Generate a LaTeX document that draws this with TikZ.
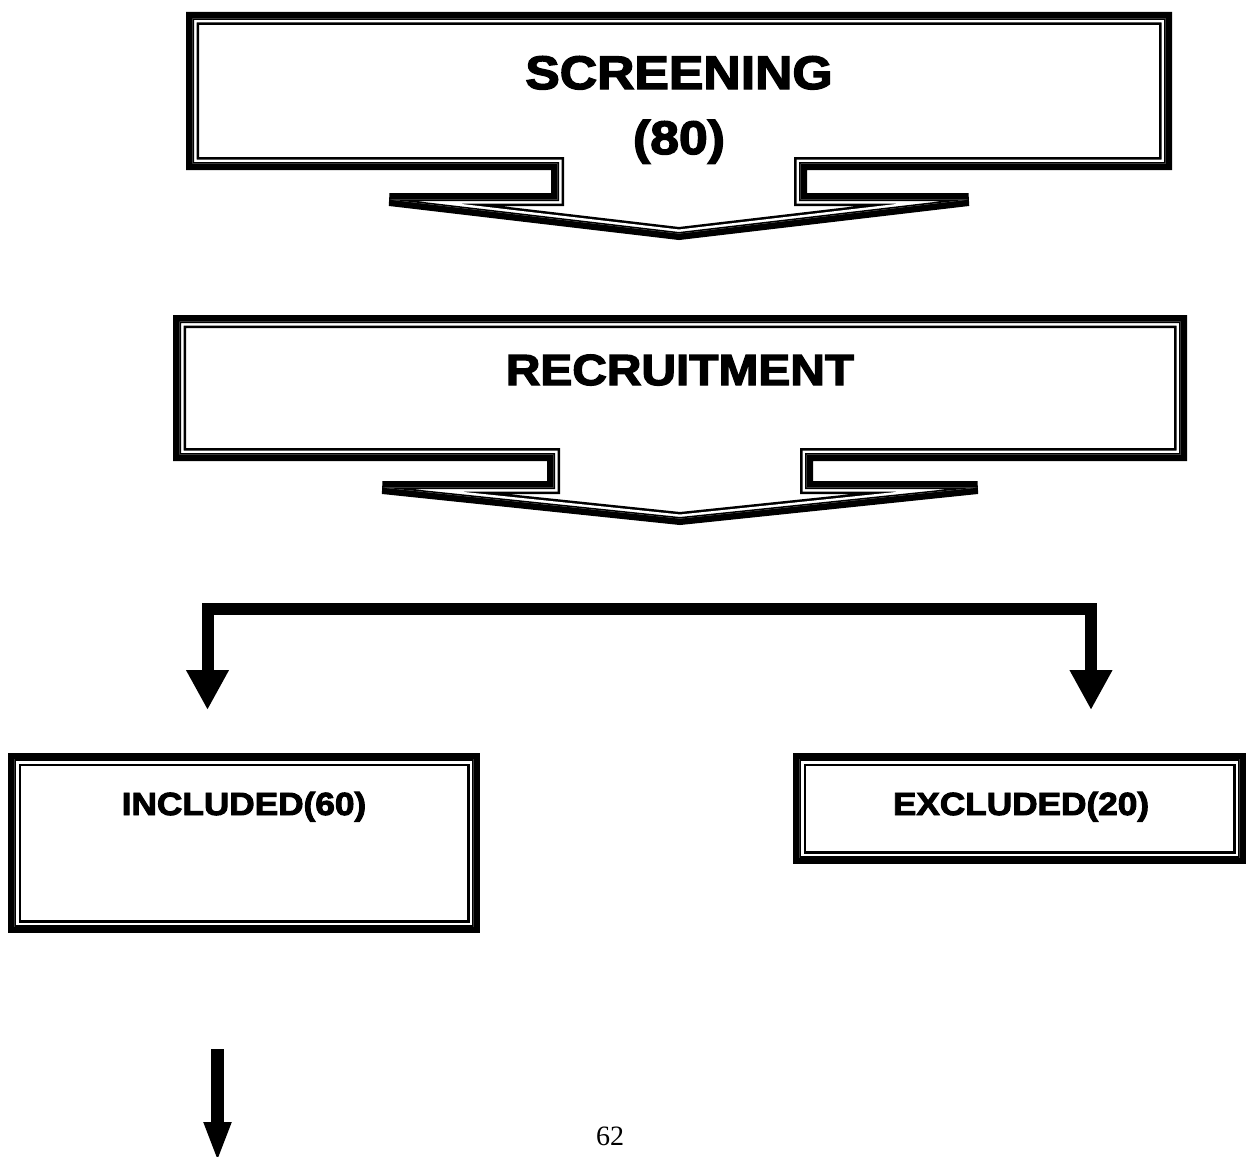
\documentclass[tikz,border=0pt]{standalone}
\usepackage{fontspec}
\setmainfont{Liberation Serif}
\newfontfamily\heavyfont[FakeBold=3,FakeStretch=1.1]{Liberation Sans}
\usetikzlibrary{arrows.meta}
\newcommand\dblshape[1]{%
  \draw[line width=13pt] #1;
  \begin{scope}
    \clip #1;
    \draw[white,line width=8pt] #1;
    \draw[line width=3pt] #1;
  \end{scope}}
\tikzset{
  heavy/.style={anchor=base, inner sep=0pt, font=\heavyfont\bfseries\fontsize{#1}{#1}\selectfont},
  conn/.style={line width=12pt, -{Triangle[length=40pt,width=40pt]}},
  lastconn/.style={line width=13pt, -{Triangle[length=40pt,width=25pt]}}
}
\begin{document}
\begin{tikzpicture}[x=1pt,y=-1pt,line join=miter]
\useasboundingbox (0,0) rectangle (1246,1156);
\begin{scope}
\clip (0,0) rectangle (1246,1156);
% screening callout
\dblshape{(192.5,18.5) -- (1165.5,18.5) -- (1165.5,163.5) -- (800.5,163.5) -- (800.5,199.5) -- (968.5,199.5) -- (679,233.5) -- (389.5,199.5) -- (557.5,199.5) -- (557.5,163.5) -- (192.5,163.5) -- cycle}
% recruitment callout
\dblshape{(179.5,321.5) -- (1180.5,321.5) -- (1180.5,454.5) -- (806.5,454.5) -- (806.5,487.5) -- (977.5,487.5) -- (680,518.5) -- (382.5,487.5) -- (553.5,487.5) -- (553.5,454.5) -- (179.5,454.5) -- cycle}
% included / excluded boxes
\dblshape{(14.5,759.5) rectangle (473.5,926.5)}
\dblshape{(799.5,759.5) rectangle (1239.5,857.5)}

\node[heavy=47] (scr) at (679,89) {SCREENING};
\node[heavy=47] (scrn) at (679,154) {(80)};
\node[heavy=43.5] (rec) at (680,385) {RECRUITMENT};
\node[heavy=32] (inc) at (244,815) {INCLUDED(60)};
\node[heavy=32] (exc) at (1021,815) {EXCLUDED(20)};
\node[anchor=base, inner sep=0pt, font=\fontsize{28}{28}\selectfont] (pg) at (610,1145) {62};

\coordinate (junc) at (650,609);
\coordinate (lt) at (207.5,710);
\coordinate (rt) at (1091,710);
\draw[conn] (junc) -| (lt);
\draw[conn] (junc) -| (rt);
\coordinate (bt) at (217.5,1049);
\coordinate (bb) at (217.5,1162);
\draw[lastconn] (bt) -- (bb);
\end{scope}
\end{tikzpicture}
\end{document}
